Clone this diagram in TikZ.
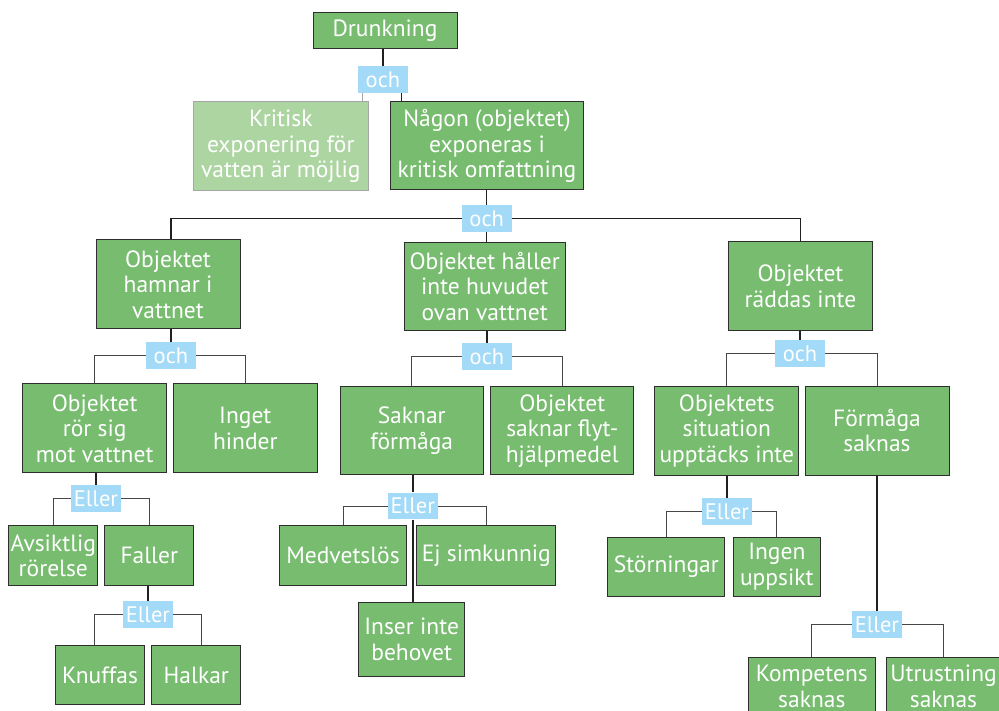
\documentclass[tikz,border=0pt]{standalone}
\usepackage{fontspec}
\setmainfont{PT Sans}
\definecolor{boxgreen}{RGB}{119,188,111}
\definecolor{palegreen}{RGB}{173,213,162}
\definecolor{paleedge}{RGB}{166,166,166}
\definecolor{boxedge}{RGB}{46,46,46}
\definecolor{gateblue}{RGB}{162,218,247}
\definecolor{trunkcol}{RGB}{35,31,32}
\definecolor{branchcol}{RGB}{70,70,70}
\pgfdeclarelayer{lines}
\pgfsetlayers{lines,main}
\begin{document}
\begin{tikzpicture}[x=1pt,y=-1pt,
  txt/.style={font=\fontsize{23.5}{25.5}\selectfont},
  event/.style={txt, draw=boxedge, line width=1pt, fill=boxgreen, text=white,
    align=center, inner sep=0pt},
  paleevent/.style={event, draw=paleedge, fill=palegreen},
  gatelbl/.style={font=\fontsize{22.5}{25}\selectfont, fill=gateblue, text=white, inner sep=0pt,
    minimum width=50pt, minimum height=26.7pt},
  trunk/.style={draw=trunkcol, line width=1.4pt},
  branch/.style={draw=branchcol, line width=1pt},
  faint/.style={draw=paleedge, line width=1pt}]
\useasboundingbox (0,0) rectangle (999,711);

% events
\node[event, minimum width=144pt, minimum height=36pt] (dr) at (385,31) {Drunkning};
\node[paleevent, minimum width=175pt, minimum height=89pt] (kr) at (280.8,146.3) {Kritisk\\exponering för\\vatten är möjlig};
\node[event, minimum width=193pt, minimum height=88pt] (ng) at (487,146) {Någon (objektet)\\exponeras i\\kritisk omfattning};

\node[event, minimum width=144pt, minimum height=89pt] (oh) at (168,284.5) {Objektet\\hamnar i\\vattnet};
\node[event, minimum width=161pt, minimum height=88pt] (hl) at (484.7,286.5) {Objektet håller\\inte huvudet\\ovan vattnet};
\node[event, minimum width=144pt, minimum height=89pt] (rd) at (800.5,286.3) {Objektet\\räddas inte};

\node[event, minimum width=144pt, minimum height=89pt] (rs) at (94.7,428.3) {Objektet\\rör sig\\mot vattnet};
\node[event, minimum width=144pt, minimum height=89pt] (ih) at (245.3,428.3) {Inget\\hinder};
\node[event, minimum width=143pt, minimum height=88pt] (sf) at (411.7,430.8) {Saknar\\förmåga};
\node[event, minimum width=143pt, minimum height=88pt] (fl) at (562.3,430.8) {Objektet\\saknar flyt-\\hjälpmedel};
\node[event, minimum width=144pt, minimum height=89pt] (su) at (726.8,430.7) {Objektets\\situation\\upptäcks inte};
\node[event, minimum width=144pt, minimum height=89pt] (fs) at (877,430.7) {Förmåga\\saknas};

\node[event, minimum width=89pt, minimum height=60pt] (av) at (53.3,555.8) {Avsiktlig\\rörelse};
\node[event, minimum width=89pt, minimum height=60pt] (fa) at (149.3,555.8) {Faller};
\node[event, minimum width=127pt, minimum height=60pt] (mv) at (343,555.8) {Medvetslös};
\node[event, minimum width=139pt, minimum height=60pt] (ej) at (486.3,555.8) {Ej simkunnig};
\node[event, minimum width=106pt, minimum height=74pt] (in) at (411.7,639.5) {Inser inte\\behovet};
\node[event, minimum width=117pt, minimum height=59pt] (st) at (666.3,566.7) {Störningar};
\node[event, minimum width=87pt, minimum height=59pt] (iu) at (776.8,566.7) {Ingen\\uppsikt};
\node[event, minimum width=89pt, minimum height=59pt] (kn) at (100,675.2) {Knuffas};
\node[event, minimum width=89pt, minimum height=59pt] (hk) at (196.3,675.2) {Halkar};
\node[event, minimum width=127pt, minimum height=59pt] (ko) at (811.8,686.5) {Kompetens\\saknas};
\node[event, minimum width=115pt, minimum height=59pt] (ut) at (943.5,686.5) {Utrustning\\saknas};

% gates
\node[gatelbl] (g0) at (383,79.3) {och};
\node[gatelbl] (g1) at (486.7,218.3) {och};
\node[gatelbl] (g2) at (171,355.5) {och};
\node[gatelbl] (g3) at (487,356.5) {och};
\node[gatelbl] (g4) at (800,353.5) {och};
\node[gatelbl] (g5) at (96,498.3) {Eller};
\node[gatelbl] (g6) at (148,614.8) {Eller};
\node[gatelbl] (g7) at (412.8,506) {Eller};
\node[gatelbl] (g8) at (727,511.8) {Eller};
\node[gatelbl] (g9) at (877,624.3) {Eller};

\begin{pgfonlayer}{lines}
  % top gate
  \draw[trunk] (g0.north |- dr.south) -- (g0.north);
  \draw[faint] ([xshift=4.5pt]g0.south west) -- ([xshift=4.5pt]g0.south west |- kr.north);
  \draw[trunk] ([xshift=-7pt]g0.south east) -- ([xshift=-7pt]g0.south east |- ng.north);
  % main gate
  \draw[trunk] (g1.north |- ng.south) -- (g1.north);
  \draw[trunk] (g1.west) -| ([xshift=3pt]oh.north);
  \draw[trunk] (g1.east) -| (rd.north);
  \draw[trunk] (g1.south) -- (g1.south |- hl.north);
  % left branch
  \draw[trunk] (g2.north |- oh.south) -- (g2.north);
  \draw[branch] (g2.west) -| (rs.north);
  \draw[branch] (g2.east) -| (ih.north);
  \draw[trunk] (g5.north |- rs.south) -- (g5.north);
  \draw[branch] (g5.west) -| (av.north);
  \draw[branch] (g5.east) -| (fa.north);
  \draw[trunk] (g6.north |- fa.south) -- (g6.north);
  \draw[branch] (g6.west) -| ([xshift=-6pt]kn.north);
  \draw[branch] (g6.east) -| ([xshift=5pt]hk.north);
  % middle branch
  \draw[trunk] (g3.north |- hl.south) -- (g3.north);
  \draw[branch] (g3.west) -| (sf.north);
  \draw[branch] (g3.east) -| (fl.north);
  \draw[trunk] (g7.north |- sf.south) -- (g7.north);
  \draw[trunk] (g7.south) -- (g7.south |- in.north);
  \draw[branch] (g7.west) -| (mv.north);
  \draw[branch] (g7.east) -| (ej.north);
  % right branch
  \draw[trunk] (g4.north |- rd.south) -- (g4.north);
  \draw[branch] (g4.west) -| (su.north);
  \draw[branch] (g4.east) -| (fs.north);
  \draw[trunk] (g8.north |- su.south) -- (g8.north);
  \draw[branch] (g8.west) -| (st.north);
  \draw[branch] (g8.east) -| (iu.north);
  \draw[trunk] (g9.north |- fs.south) -- (g9.north);
  \draw[branch] (g9.west) -| (ko.north);
  \draw[branch] (g9.east) -| (ut.north);
\end{pgfonlayer}
\end{tikzpicture}
\end{document}
